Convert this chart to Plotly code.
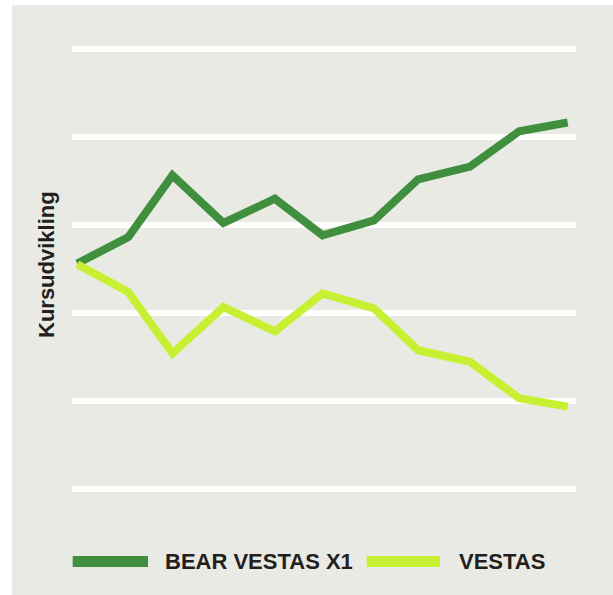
import plotly.graph_objects as go

# ---- data ----
x_pos = [0, 1.04, 1.94, 2.98, 4.03, 5.0, 6.05, 6.95, 8.01, 9.01, 10]
bear_vestas = [51.2, 57.2, 71.2, 60.4, 65.9, 57.6, 61.0, 70.3, 73.2, 81.2, 83.2]
vestas = [51.0, 44.7, 30.8, 41.3, 35.8, 44.4, 41.0, 31.5, 28.9, 20.6, 18.7]
series_names = ["BEAR VESTAS X1", "VESTAS"]
series_colors = ["#3f8f3f", "#c8f032"]
y_ticks = [0, 20, 40, 60, 80, 100]
y_title = "Kursudvikling"

W, H = 613, 595
ML, MR, MT, MB = 72, 37, 30, 85
PW, PH = W - ML - MR, H - MT - MB


def px_x(p):
    return (p - ML) / PW


def px_y(p):
    return (H - MB - p) / PH


BG = "#e9eae4"
TXT = "#231f20"
FONT = "Liberation Sans, Arial, sans-serif"

fig = go.Figure()
for name, vals, col in zip(series_names, [bear_vestas, vestas], series_colors):
    fig.add_trace(go.Scatter(
        x=x_pos, y=vals, mode="lines", name=name,
        line=dict(color=col, width=8, shape="linear"),
        showlegend=False, hoverinfo="skip",
    ))

shapes = [
    dict(type="rect", xref="paper", yref="paper", layer="below",
         x0=px_x(12), x1=px_x(W + 5), y0=px_y(H + 5), y1=px_y(5),
         fillcolor=BG, line=dict(width=0)),
]
annotations = [
    dict(text="<b>" + y_title + "</b>", xref="paper", yref="paper",
         x=px_x(46), y=px_y(265), xanchor="center", yanchor="middle",
         textangle=-90, showarrow=False,
         font=dict(family=FONT, size=22, color=TXT)),
]

# manual legend
leg_y = px_y(561.5)
leg_items = [(72.7, 148, 163), (366.7, 440, 456.7)]
for (s0, s1, tx), name, col in zip(leg_items, series_names, series_colors):
    shapes.append(dict(type="line", xref="paper", yref="paper",
                       x0=px_x(s0), x1=px_x(s1), y0=leg_y, y1=leg_y,
                       line=dict(color=col, width=11)))
    annotations.append(dict(text="<b>" + name + "</b>", xref="paper", yref="paper",
                            x=px_x(tx), y=leg_y, xanchor="left", yanchor="middle",
                            showarrow=False,
                            font=dict(family=FONT, size=22, color=TXT)))

fig.update_layout(
    width=W, height=H,
    margin=dict(l=ML, r=MR, t=MT, b=MB, autoexpand=False),
    paper_bgcolor="white", plot_bgcolor="rgba(0,0,0,0)",
    shapes=shapes, annotations=annotations,
    showlegend=False,
    xaxis=dict(range=[-0.108, 10.17], showgrid=False, zeroline=False,
               showticklabels=False, ticks="", showline=False, fixedrange=True),
    yaxis=dict(range=[-4.76, 104.2], tickvals=y_ticks, showgrid=True,
               gridcolor="white", gridwidth=5.5, zeroline=False,
               showticklabels=False, ticks="", showline=False, fixedrange=True),
)

fig.write_html("out.html", config={"displayModeBar": False})

# remove the default page margin so the figure sits at the window origin
with open("out.html", "r", encoding="utf-8") as f:
    html = f.read()
html = html.replace("<head>", "<head><style>html,body{margin:0;padding:0;overflow:hidden;}</style>", 1)
with open("out.html", "w", encoding="utf-8") as f:
    f.write(html)
